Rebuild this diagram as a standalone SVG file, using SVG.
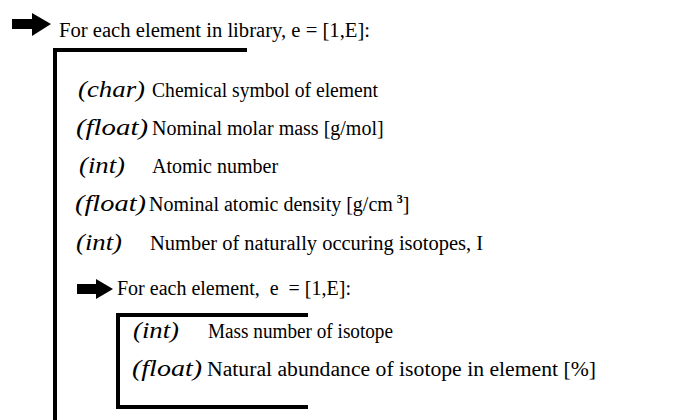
<svg xmlns="http://www.w3.org/2000/svg" width="691" height="420" viewBox="0 0 691 420">
<style>
text{font-family:"Liberation Serif","Times New Roman",serif;font-size:20px;fill:#000;white-space:pre}
.t{font-style:italic;font-size:23px}
.br{fill:none;stroke:#000;stroke-width:4;stroke-linejoin:miter}
.ar{fill:#000}
</style>
<rect width="691" height="420" fill="#fff"/>
<g id="outer-loop">
<polygon class="ar" points="12,19 32,19 32,13 51,24 32,36 32,29 12,29"/>
<text x="59" y="37" textLength="311" lengthAdjust="spacingAndGlyphs">For each element in library, e = [1,E]:</text>
<path class="br" d="M247,50 H55 V422"/>
</g>
<g id="field-symbol"><text class="t" x="78" y="97" textLength="67" lengthAdjust="spacingAndGlyphs">(char)</text><text x="152" y="97" textLength="226" lengthAdjust="spacingAndGlyphs">Chemical symbol of element</text></g>
<g id="field-mass"><text class="t" x="76" y="135" textLength="72" lengthAdjust="spacingAndGlyphs">(float)</text><text x="152" y="135">Nominal molar mass [g/mol]</text></g>
<g id="field-z"><text class="t" x="79" y="173" textLength="46" lengthAdjust="spacingAndGlyphs">(int)</text><text x="152" y="173">Atomic number</text></g>
<g id="field-density"><text class="t" x="75" y="211" textLength="71" lengthAdjust="spacingAndGlyphs">(float)</text><text x="149" y="211">Nominal atomic density [g/cm<tspan font-size="12" font-weight="bold" dx="4" dy="-8">3</tspan><tspan dy="8">]</tspan></text></g>
<g id="field-niso"><text class="t" x="76" y="250" textLength="46" lengthAdjust="spacingAndGlyphs">(int)</text><text x="150" y="250" textLength="333" lengthAdjust="spacingAndGlyphs">Number of naturally occuring isotopes, I</text></g>
<g id="inner-loop">
<polygon class="ar" points="77,284 96,284 96,279 113,289 96,299 96,294 77,294"/>
<text x="117" y="295">For each element,  e  = [1,E]:</text>
<path class="br" d="M308,315 H118 V407 H308"/>
</g>
<g id="field-A"><text class="t" x="133" y="338" textLength="46" lengthAdjust="spacingAndGlyphs">(int)</text><text x="208" y="338" textLength="185" lengthAdjust="spacingAndGlyphs">Mass number of isotope</text></g>
<g id="field-abund"><text class="t" x="132" y="376" textLength="70" lengthAdjust="spacingAndGlyphs">(float)</text><text x="207" y="376" textLength="389" lengthAdjust="spacingAndGlyphs">Natural abundance of isotope in element [%]</text></g>
<g id="connectors"></g>
</svg>
